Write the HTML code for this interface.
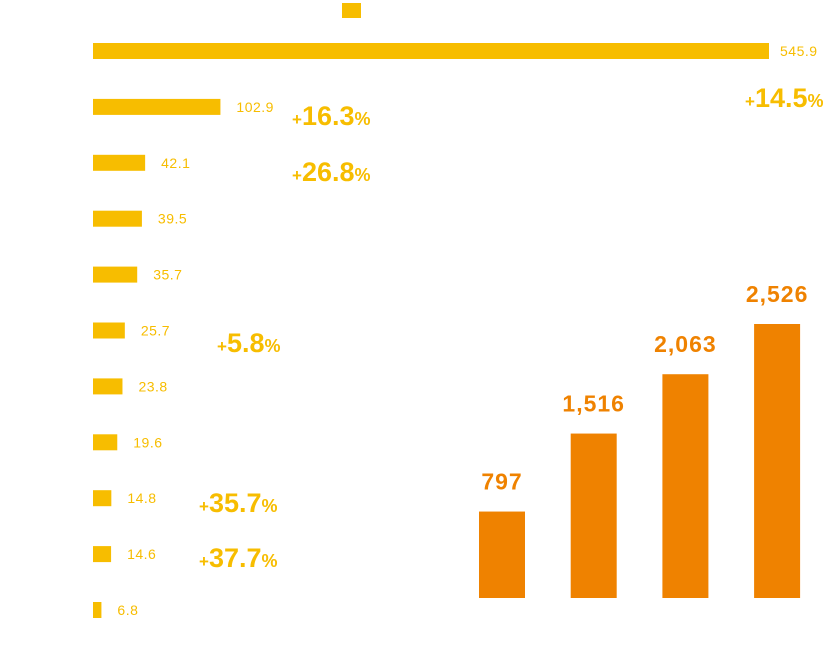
<!DOCTYPE html>
<html><head><meta charset="utf-8"><style>
html,body{margin:0;padding:0;background:#fff;}
svg{display:block;font-family:"Liberation Sans",sans-serif;}
</style></head><body>
<svg id="chart" width="839" height="648" viewBox="0 0 839 648" xmlns="http://www.w3.org/2000/svg">
<rect x="342" y="3" width="19" height="15" fill="#f7bd00"/>
<g id="hbars"></g>
<g id="vbars"></g>
<g id="pcts"></g>
</svg>
<script>
const hValues = [545.9, 102.9, 42.1, 39.5, 35.7, 25.7, 23.8, 19.6, 14.8, 14.6, 6.8];
const vValues = [797, 1516, 2063, 2526];
const vLabels = ["797", "1,516", "2,063", "2,526"];
const pctLabels = ["14.5", "16.3", "26.8", "5.8", "35.7", "37.7"];
const NS = "http://www.w3.org/2000/svg";
const YEL = "#f7bd00", ORG = "#ef8200";
function mk(tag, attrs, parent) {
  const e = document.createElementNS(NS, tag);
  for (const k in attrs) e.setAttribute(k, attrs[k]);
  parent.appendChild(e);
  return e;
}
// horizontal bars
const hx = v => 93 + v * (676 / 545.9);
const hy = i => 51 + i * 55.9;
const hg = document.getElementById("hbars");
hValues.forEach((v, i) => {
  const r = mk("rect", {x: 93, y: hy(i) - 8, width: hx(v) - 93, height: 16, fill: YEL}, hg);
  
  
  const t = mk("text", {x: hx(v) + (i === 0 ? 11 : 16), y: hy(i) + 5, "font-size": 14, fill: YEL, "letter-spacing": "0.5"}, hg);
  t.textContent = v.toFixed(1);
  
  
});
// vertical bars
const vBase = 598, vScale = 274 / 2526;
const vx = i => 479 + i * 91.7;
const vg = document.getElementById("vbars");
vValues.forEach((v, i) => {
  const h = v * vScale;
  const r = mk("rect", {x: vx(i), y: vBase - h, width: 46, height: h, fill: ORG}, vg);
  
  
  const t = mk("text", {x: vx(i) + 23, y: vBase - h - 22, "font-size": 23, "font-weight": "bold", fill: ORG, "text-anchor": "middle", "letter-spacing": "1"}, vg);
  t.textContent = vLabels[i];
  
  
});
// growth labels
const pctPos = [[745, 107], [292, 125], [292, 181], [217, 352], [199, 512], [199, 567]];
const pg = document.getElementById("pcts");
pctLabels.forEach((p, i) => {
  const t = mk("text", {x: pctPos[i][0], y: pctPos[i][1], fill: YEL, "font-weight": "bold"}, pg);
  
  
  const a = mk("tspan", {"font-size": 17}, t); a.textContent = "+";
  const b = mk("tspan", {"font-size": 27}, t); b.textContent = p;
  const c = mk("tspan", {"font-size": 18}, t); c.textContent = "%";
});
</script>
</body></html>
